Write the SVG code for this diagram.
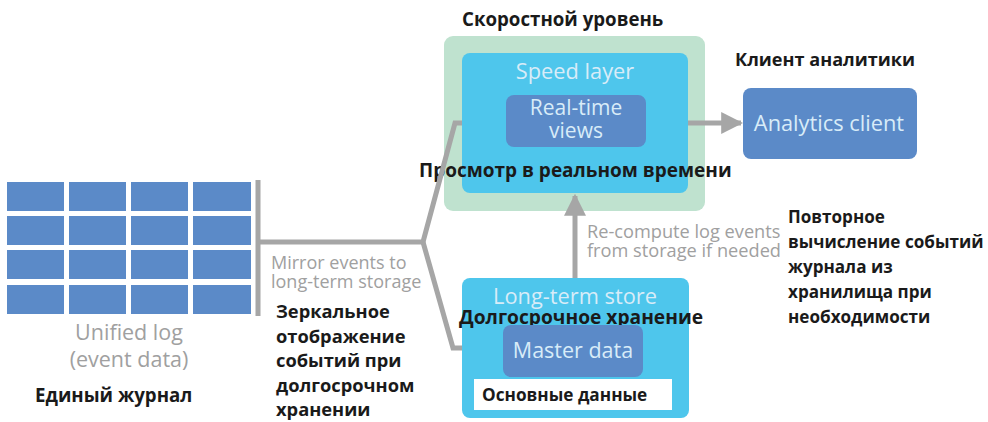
<svg xmlns="http://www.w3.org/2000/svg" width="988" height="422" viewBox="0 0 988 422">
  <defs>
    <style>
      .cell { fill: #5b8ac8; }
      .en { font-family: "Open Sans", "Noto Sans", sans-serif; fill: #a0a0a0; }
      .en-light { font-family: "Open Sans", "Noto Sans", sans-serif; fill: #d8ecf8; }
      .ru { font-family: "Open Sans", "Noto Sans", sans-serif; font-weight: bold; fill: #1a1a1a; }
      .wire { fill: none; stroke: #a6a6a6; stroke-width: 5; stroke-linejoin: miter; }
      .inner { fill: #5b8ac8; }
      .store { fill: #4ec6ec; }
    </style>
    <marker id="head" viewBox="0 0 10 10" refX="9" refY="5" markerWidth="4.4" markerHeight="4.4" orient="auto" markerUnits="strokeWidth">
      <path d="M0,0 L10,5 L0,10 Z" fill="#a6a6a6"/>
    </marker>
  </defs>

  <rect width="988" height="422" fill="#ffffff"/>

  <!-- unified log: grid of event cells -->
  <g id="unified-log">
    <g>
      <rect class="cell" x="7" y="182" width="57" height="29"/>
      <rect class="cell" x="69" y="182" width="57" height="29"/>
      <rect class="cell" x="131" y="182" width="57" height="29"/>
      <rect class="cell" x="193" y="182" width="58" height="29"/>
      <rect class="cell" x="7" y="216" width="57" height="29"/>
      <rect class="cell" x="69" y="216" width="57" height="29"/>
      <rect class="cell" x="131" y="216" width="57" height="29"/>
      <rect class="cell" x="193" y="216" width="58" height="29"/>
      <rect class="cell" x="7" y="250" width="57" height="29"/>
      <rect class="cell" x="69" y="250" width="57" height="29"/>
      <rect class="cell" x="131" y="250" width="57" height="29"/>
      <rect class="cell" x="193" y="250" width="58" height="29"/>
      <rect class="cell" x="7" y="285" width="57" height="29"/>
      <rect class="cell" x="69" y="285" width="57" height="29"/>
      <rect class="cell" x="131" y="285" width="57" height="29"/>
      <rect class="cell" x="193" y="285" width="58" height="29"/>
    </g>
    <text class="en" x="129" y="340" font-size="21.5" text-anchor="middle">Unified log</text>
    <text class="en" x="129" y="367" font-size="21.5" text-anchor="middle">(event data)</text>
    <text class="ru" x="35" y="402" font-size="18.7">Единый журнал</text>
  </g>

  <!-- speed layer -->
  <g id="speed-layer">
    <rect x="444" y="36" width="261" height="175" rx="9" fill="#bfe2cf"/>
    <rect class="store" x="462" y="53" width="226" height="140" rx="8"/>
    <text class="en-light" x="575" y="79" font-size="21.8" text-anchor="middle">Speed layer</text>
    <text class="ru" x="462" y="26" font-size="18.7">Скоростной уровень</text>
  </g>

  <g id="real-time-views">
    <rect class="inner" x="506" y="95" width="140" height="52" rx="8"/>
    <text class="en-light" x="576" y="115" font-size="21" text-anchor="middle">Real-time</text>
    <text class="en-light" x="576" y="138" font-size="21" text-anchor="middle">views</text>
    <text class="ru" x="419" y="177" font-size="19">Просмотр в реальном времени</text>
  </g>

  <!-- analytics client -->
  <g id="analytics-client">
    <rect class="inner" x="743" y="88" width="174" height="71" rx="8"/>
    <text class="en-light" x="829" y="131" font-size="21.8" text-anchor="middle">Analytics client</text>
    <text class="ru" x="735" y="66" font-size="18.1">Клиент аналитики</text>
  </g>

  <!-- long-term store -->
  <g id="long-term-store">
    <rect class="store" x="462" y="278" width="227" height="140" rx="8"/>
    <text class="en-light" x="575" y="304" font-size="21.8" text-anchor="middle">Long-term store</text>
    <text class="ru" x="459" y="324" font-size="19.2">Долгосрочное хранение</text>
  </g>

  <g id="master-data">
    <rect class="inner" x="503" y="325" width="140" height="52" rx="8"/>
    <text class="en-light" x="573" y="358" font-size="21.5" text-anchor="middle">Master data</text>
    <rect x="474" y="379" width="198" height="31" fill="#ffffff"/>
    <text class="ru" x="482" y="401" font-size="17.2">Основные данные</text>
  </g>

  <!-- connectors -->
  <g id="connectors">
    <line class="wire" x1="258" y1="180" x2="258" y2="316"/>
    <path class="wire" d="M258,242 H423 L455,123 H462"/>
    <path class="wire" d="M423,242 L453,348 H462"/>
    <line class="wire" x1="688" y1="123" x2="741" y2="123" marker-end="url(#head)"/>
    <line class="wire" x1="575" y1="278" x2="575" y2="196" marker-end="url(#head)"/>
  </g>

  <!-- connector labels -->
  <g id="labels">
    <text class="en" x="271" y="269" font-size="18">Mirror events to</text>
    <text class="en" x="271" y="288" font-size="18">long-term storage</text>
    <text class="ru" x="276" y="318" font-size="18.3">Зеркальное</text>
    <text class="ru" x="276" y="343" font-size="18.3">отображение</text>
    <text class="ru" x="276" y="367" font-size="18.3">событий при</text>
    <text class="ru" x="276" y="392" font-size="18.3">долгосрочном</text>
    <text class="ru" x="276" y="416" font-size="18.3">хранении</text>

    <text class="en" x="587" y="238" font-size="18.2">Re-compute log events</text>
    <text class="en" x="587" y="257" font-size="18.2">from storage if needed</text>
    <text class="ru" x="788" y="223" font-size="17.1">Повторное</text>
    <text class="ru" x="788" y="248" font-size="17.1">вычисление событий</text>
    <text class="ru" x="788" y="273" font-size="17.1">журнала из</text>
    <text class="ru" x="788" y="298" font-size="17.1">хранилища при</text>
    <text class="ru" x="788" y="323" font-size="17.1">необходимости</text>
  </g>
</svg>
